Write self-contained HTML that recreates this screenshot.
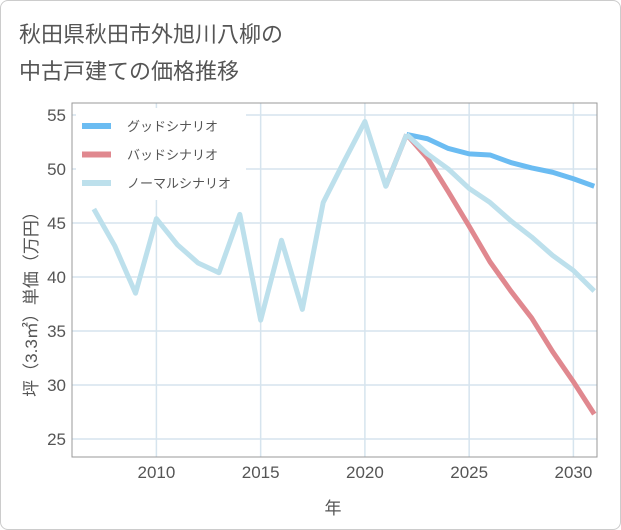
<!DOCTYPE html>
<html><head><meta charset="utf-8"><style>
body{margin:0;background:#fff;font-family:"Liberation Sans","Noto Sans CJK JP",sans-serif;}
#wrap{position:relative;width:619px;height:528px;border:1px solid #ccc;border-radius:8px;overflow:hidden;}
.t{position:absolute;left:18px;font-size:22px;color:#555;}
svg text{font-family:"Liberation Sans","Noto Sans CJK JP",sans-serif;}
</style></head><body>
<div id="wrap">
<div class="t" style="top:16px">秋田県秋田市外旭川八柳の</div>
<div class="t" style="top:53px">中古戸建ての価格推移</div>
<svg id="c" width="621" height="530" style="position:absolute;left:-1px;top:-1px"></svg>
</div>
<script>
const histYears=[2007,2008,2009,2010,2011,2012,2013,2014,2015,2016,2017,2018,2019,2020,2021,2022];
const histValues=[46.3,42.9,38.5,45.4,43.0,41.3,40.4,45.8,36.0,43.4,37.0,46.9,50.7,54.4,48.4,53.2];
const projYears=[2022,2023,2024,2025,2026,2027,2028,2029,2030,2031];
const goodValues=[53.2,52.8,51.9,51.4,51.3,50.6,50.1,49.7,49.1,48.4];
const badValues=[53.2,51.0,47.9,44.7,41.4,38.7,36.2,33.1,30.3,27.3];
const normalValues=[53.2,51.4,50.0,48.2,46.9,45.2,43.7,42.0,40.6,38.7];
const yTicks=[25,30,35,40,45,50,55];
const xTicks=[2010,2015,2020,2025,2030];
const legendLabels=["グッドシナリオ","バッドシナリオ","ノーマルシナリオ"];
const colors=["#6bbcf2","#e0888f","#bde0ec"];
const NS="http://www.w3.org/2000/svg";
const svg=document.getElementById('c');
const L=72,R=597,T=103,B=457;
const X=v=>156.4+(v-2010)*20.85;
const Y=v=>115+(55-v)*10.8;
function el(tag,a,p){const e=document.createElementNS(NS,tag);for(const k in a)e.setAttribute(k,a[k]);(p||svg).appendChild(e);return e;}
const defs=el('defs',{});const cp=el('clipPath',{id:'cp'},defs);el('rect',{x:L,y:T,width:R-L,height:B-T},cp);
for(const v of yTicks){
 const g=el('line',{x1:L,x2:R,y1:Y(v),y2:Y(v),stroke:'#d6e4ee','stroke-width':1.5});
 
 
 const t=el('text',{x:L-6,y:Y(v)+6,'text-anchor':'end','font-size':17,fill:'#555'});t.textContent=v;
 
 
}
for(const v of xTicks){
 const g=el('line',{x1:X(v),x2:X(v),y1:T,y2:B,stroke:'#d6e4ee','stroke-width':1.5});
 
 
 const t=el('text',{x:X(v),y:B+21,'text-anchor':'middle','font-size':17,fill:'#555'});t.textContent=v;
 
 
}
const fr=el('rect',{x:L,y:T,width:R-L,height:B-T,fill:'none',stroke:'#999','stroke-width':1});


const gp=el('g',{'clip-path':'url(#cp)'});
function line(xs,ys,col,name){
 const p=el('polyline',{points:xs.map((x,i)=>X(x)+','+Y(ys[i])).join(' '),fill:'none',stroke:col,'stroke-width':5,'stroke-linejoin':'round'},gp);
 
 
}
line(histYears.slice(-2),histValues.slice(-2),colors[1],'bad-history-tail');
line(projYears,badValues,colors[1],'bad-scenario-line');
line(projYears,goodValues,colors[0],'good-scenario-line');
line(histYears,histValues,colors[2],'normal-history-line');
line(projYears,normalValues,colors[2],'normal-scenario-line');
const lb=el('rect',{x:76,y:108,width:170,height:92,fill:'#fff'});


legendLabels.forEach((s,i)=>{
 const y=126+i*28.5;
 const l=el('line',{x1:82,x2:111,y1:y,y2:y,stroke:colors[i],'stroke-width':6});
 
 
 const t=el('text',{x:127,y:y+5,'font-size':13,fill:'#555'});t.textContent=s;
 
 
});
const xt=el('text',{x:333,y:514,'text-anchor':'middle','font-size':17,fill:'#555'});xt.textContent='年';


const yt=el('text',{x:0,y:0,'text-anchor':'middle','font-size':17,fill:'#555',transform:'translate(37,300) rotate(-90)'});yt.textContent='坪（3.3㎡）単価（万円）';


</script>
</body></html>
